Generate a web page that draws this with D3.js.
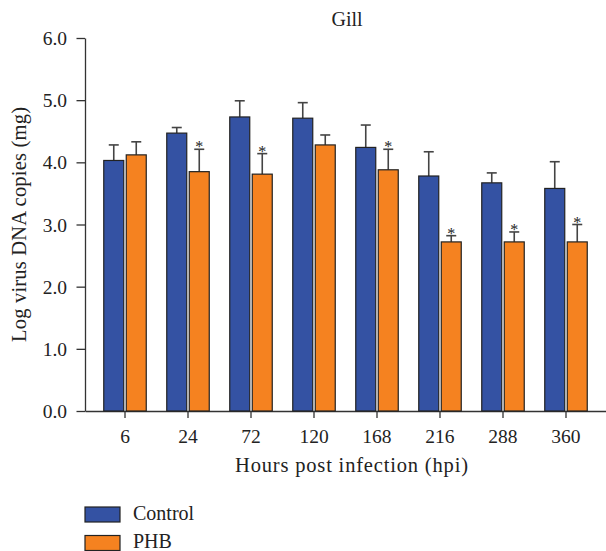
<!DOCTYPE html>
<html><head><meta charset="utf-8">
<script src="https://cdn.jsdelivr.net/npm/d3@7"></script>
<style>body{margin:0;background:#fff}svg{display:block}text{font-family:"Liberation Serif","Times New Roman",serif;fill:#222}</style>
</head><body>
<script>
const categories = ["6","24","72","120","168","216","288","360"];
const controlMean = [4.03,4.47,4.73,4.71,4.24,3.78,3.67,3.58];
const controlErr  = [0.25,0.09,0.26,0.25,0.36,0.39,0.16,0.43];
const phbMean     = [4.12,3.85,3.81,4.28,3.88,2.72,2.72,2.72];
const phbErr      = [0.21,0.36,0.33,0.16,0.33,0.10,0.16,0.28];
const phbSig      = [false,true,true,false,true,true,true,true];
const yTicks = [0,1,2,3,4,5,6];
const seriesNames = ["Control","PHB"];
const colors = ["#3452A3","#F58220"];

const W=606,H=551;
const FF="Liberation Serif";
const svg=d3.select("body").append("svg").attr("width",W).attr("height",H);
const x0=85,x1=606,yTop=38,yBot=411;
const x=d3.scaleBand().domain(categories).range([x0,x1]).paddingInner(0).paddingOuter(0.135);
const y=d3.scaleLinear().domain([0,6]).range([yBot,yTop]);
const barW=20, gap=2.5;

// axes
const ya=svg.append("g").attr("transform",`translate(${x0},0)`)
  .call(d3.axisLeft(y).tickValues(yTicks).tickFormat(d3.format(".1f")).tickSize(8.5).tickSizeOuter(0))
  .attr("font-family",FF).attr("font-size",19.5);
ya.select(".domain").attr("stroke","#333").attr("stroke-width",1.3);
ya.selectAll(".tick line").attr("stroke","#333").attr("stroke-width",1.3);
ya.selectAll(".tick text").attr("font-size",19.5).attr("x",-18).attr("dy","0.34em").attr("font-family",FF).attr("fill","#222");

const xa=svg.append("g").attr("transform",`translate(0,${yBot})`)
  .call(d3.axisBottom(x).tickSize(7).tickSizeOuter(0))
  .attr("font-family",FF).attr("font-size",19.5);
xa.select(".domain").attr("stroke","#333").attr("stroke-width",1.3);
xa.selectAll(".tick line").attr("stroke","#333").attr("stroke-width",1.3);
xa.selectAll(".tick text").attr("font-size",19.5).attr("y",32).attr("dy","0").attr("font-family",FF).attr("fill","#222");

const data=categories.map((c,i)=>({c,vals:[[controlMean[i],controlErr[i],false],[phbMean[i],phbErr[i],phbSig[i]]]}));
const g=svg.append("g");
data.forEach(d=>{
  const cx=x(d.c)+x.bandwidth()/2;
  d.vals.forEach((v,j)=>{
    const bx = j===0 ? cx-gap/2-barW : cx+gap/2;
    const mid=bx+barW/2;
    const top=y(v[0]+v[1]);
    g.append("line").attr("x1",mid).attr("x2",mid).attr("y1",y(v[0])).attr("y2",top).attr("stroke","#444").attr("stroke-width",1.6);
    g.append("line").attr("x1",mid-5).attr("x2",mid+5).attr("y1",top).attr("y2",top).attr("stroke","#444").attr("stroke-width",1.6);
    g.append("rect").attr("x",bx).attr("y",y(v[0])).attr("width",barW).attr("height",yBot-y(v[0]))
      .attr("fill",colors[j]).attr("stroke","#222").attr("stroke-width",1.2);
    if(v[2]) g.append("text").attr("x",mid).attr("y",top+3).attr("text-anchor","middle").attr("font-size",16).text("*");
  });
});

svg.append("text").attr("x",347).attr("y",26).attr("text-anchor","middle").attr("font-size",20).text("Gill");
svg.append("text").attr("x",351.5).attr("y",472).attr("text-anchor","middle").attr("font-size",20.5)
  .attr("textLength",233).attr("lengthAdjust","spacing").text("Hours post infection (hpi)");
svg.append("text").attr("transform","translate(26,224.5) rotate(-90)").attr("text-anchor","middle").attr("font-size",20.5)
  .attr("textLength",235).attr("lengthAdjust","spacing").text("Log virus DNA copies (mg)");

seriesNames.forEach((n,i)=>{
  const ly=507+i*28.5;
  svg.append("rect").attr("x",85).attr("y",ly).attr("width",35).attr("height",15).attr("fill",colors[i]).attr("stroke","#222").attr("stroke-width",1.2);
  svg.append("text").attr("x",133).attr("y",ly+12.5).attr("font-size",20).text(n);
});
</script>
</body></html>
